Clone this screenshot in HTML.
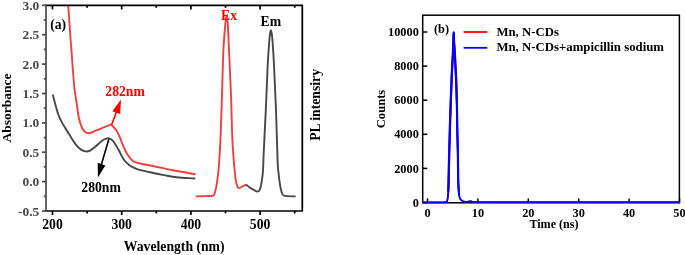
<!DOCTYPE html>
<html lang="en">
<head>
<meta charset="utf-8">
<title>Figure</title>
<style>
html,body{margin:0;padding:0;background:#fff;}
body{width:685px;height:255px;overflow:hidden;}
svg{display:block;}
</style>
</head>
<body>
<svg width="685" height="255" viewBox="0 0 685 255">
<rect width="685" height="255" fill="#fff"/>
<g fill="none" stroke-width="1.9" stroke-linejoin="round" stroke-linecap="butt">
<path d="M52.70,94.40 C54.60,101.17 56.07,108.10 58.40,114.70 C59.70,118.40 61.71,121.86 63.60,125.30 C65.17,128.16 67.05,130.84 68.80,133.60 C71.15,137.31 73.25,141.23 75.90,144.70 C77.32,146.56 79.10,148.29 81.00,149.60 C82.33,150.52 84.03,151.23 85.60,151.40 C87.03,151.56 88.69,151.23 90.00,150.60 C91.93,149.67 93.60,148.08 95.30,146.70 C97.73,144.72 99.90,142.37 102.40,140.50 C103.47,139.70 104.76,139.17 106.00,138.70 C106.79,138.40 107.70,138.10 108.50,138.20 C109.36,138.30 110.25,138.80 111.00,139.30 C111.92,139.90 112.86,140.60 113.50,141.50 C115.46,144.27 117.10,147.33 118.80,150.30 C120.63,153.50 121.99,157.02 124.10,160.00 C125.53,162.02 127.39,163.87 129.40,165.30 C131.52,166.81 134.02,167.94 136.50,168.80 C140.48,170.18 144.67,171.06 148.80,172.00 C153.87,173.16 158.99,174.12 164.10,175.10 C168.22,175.89 172.33,176.85 176.50,177.30 C182.73,177.98 189.03,178.10 195.30,178.50" stroke="#484848"/>
<path d="M68.20,5.00 C68.90,15.00 69.58,25.00 70.30,35.00 C70.95,44.00 71.60,53.00 72.30,62.00 C72.97,70.67 73.48,79.36 74.40,88.00 C74.98,93.39 76.01,98.73 76.80,104.10 C77.41,108.23 77.77,112.42 78.60,116.50 C79.27,119.78 80.15,123.07 81.30,126.20 C81.88,127.77 82.79,129.27 83.80,130.60 C84.46,131.47 85.37,132.26 86.30,132.80 C86.93,133.16 87.77,133.34 88.50,133.30 C89.50,133.24 90.53,132.86 91.50,132.50 C92.80,132.02 94.02,131.33 95.30,130.80 C96.85,130.16 98.45,129.64 100.00,129.00 C101.38,128.44 102.72,127.75 104.10,127.20 C105.38,126.69 106.71,126.30 108.00,125.80 C108.95,125.43 109.95,124.48 110.80,124.60 C111.61,124.71 112.33,125.80 113.00,126.50 C114.16,127.70 115.41,128.89 116.30,130.30 C117.74,132.59 118.90,135.11 120.00,137.60 C120.93,139.71 121.46,141.99 122.40,144.10 C124.00,147.69 125.53,151.39 127.60,154.70 C129.03,156.99 130.82,159.27 132.90,160.90 C134.35,162.04 136.36,162.54 138.20,163.00 C143.43,164.31 148.81,165.09 154.10,166.20 C160.38,167.52 166.60,169.09 172.90,170.30 C180.44,171.75 188.03,172.90 195.60,174.20" stroke="#ee4040"/>
<path d="M195.60,196.40 C199.07,196.30 202.53,196.22 206.00,196.10 C208.10,196.02 210.22,196.02 212.30,195.80 C212.76,195.75 213.26,195.58 213.60,195.30 C213.99,194.98 214.30,194.48 214.50,194.00 C214.87,193.11 215.08,192.15 215.30,191.20 C215.75,189.25 216.15,187.28 216.50,185.30 C216.92,182.94 217.27,180.57 217.60,178.20 C217.97,175.47 218.40,172.75 218.60,170.00 C219.33,160.01 219.95,150.01 220.40,140.00 C221.08,125.01 221.50,110.00 222.00,95.00 C222.50,80.00 222.73,64.99 223.40,50.00 C223.73,42.66 224.42,35.33 225.00,28.00 C225.22,25.16 225.43,22.32 225.80,19.50 C225.96,18.25 226.33,15.80 226.60,15.80 C226.87,15.80 227.26,18.25 227.40,19.50 C227.72,22.32 227.85,25.16 228.00,28.00 C228.38,35.33 228.67,42.67 229.00,50.00 C229.67,65.00 230.43,80.00 231.00,95.00 C231.57,110.00 231.74,125.01 232.40,140.00 C232.77,148.34 233.46,156.67 234.10,165.00 C234.33,167.94 234.65,170.87 235.00,173.80 C235.35,176.74 235.50,179.75 236.20,182.60 C236.66,184.48 237.27,187.34 238.50,188.00 C239.50,188.54 241.46,186.86 242.90,186.20 C244.00,185.70 245.03,185.07 246.10,184.50" stroke="#ee4040"/>
<path d="M246.10,184.50 C247.40,185.60 248.61,186.83 250.00,187.80 C251.24,188.67 252.64,189.32 254.00,190.00 C255.17,190.59 256.49,191.66 257.60,191.60 C258.42,191.56 259.43,190.55 259.80,189.70 C260.73,187.55 261.08,184.99 261.50,182.60 C262.11,179.09 262.63,175.55 262.90,172.00 C263.33,166.35 263.34,160.67 263.60,155.00 C264.30,140.00 265.12,125.00 265.80,110.00 C266.48,95.00 266.95,79.99 267.70,65.00 C268.08,57.33 268.63,49.66 269.20,42.00 C269.40,39.29 269.61,36.58 270.00,33.90 C270.18,32.65 270.60,30.20 270.90,30.20 C271.20,30.20 271.62,32.65 271.80,33.90 C272.19,36.58 272.41,39.29 272.60,42.00 C273.14,49.66 273.62,57.33 274.00,65.00 C274.75,80.00 275.43,95.00 276.00,110.00 C276.57,125.00 276.91,140.00 277.40,155.00 C277.51,158.33 277.57,161.67 277.80,165.00 C278.04,168.54 278.37,172.08 278.80,175.60 C279.30,179.74 279.80,183.91 280.60,188.00 C281.00,190.08 281.42,192.34 282.40,194.10 C282.89,194.97 283.99,195.72 285.00,195.90 C288.39,196.49 292.07,196.23 295.60,196.40" stroke="#484848"/>
</g>
<g stroke-width="1.6">
<line x1="111.6" y1="124.8" x2="116.5" y2="111.8" stroke="#ff0000"/>
<polygon points="121,99.6 112.3,111.2 120.2,114" fill="#ff0000" stroke="none"/>
<line x1="108.8" y1="139.2" x2="101.4" y2="164.5" stroke="#000"/>
<polygon points="97.9,177.4 97.7,162.8 105.3,165.6" fill="#000" stroke="none"/>
</g>
<g stroke="#000" stroke-width="1.7" fill="none">
<line x1="45.3" y1="5.4" x2="303.0" y2="5.4"/>
<line x1="45.3" y1="211.0" x2="303.0" y2="211.0"/>
<line x1="302.3" y1="5.4" x2="302.3" y2="211.0"/>
<line x1="52.5" y1="5.4" x2="52.5" y2="9.4"/>
<line x1="52.5" y1="211.0" x2="52.5" y2="215.0"/>
<line x1="87.1" y1="5.4" x2="87.1" y2="7.800000000000001"/>
<line x1="87.1" y1="211.0" x2="87.1" y2="213.4"/>
<line x1="121.7" y1="5.4" x2="121.7" y2="9.4"/>
<line x1="121.7" y1="211.0" x2="121.7" y2="215.0"/>
<line x1="156.3" y1="5.4" x2="156.3" y2="7.800000000000001"/>
<line x1="156.3" y1="211.0" x2="156.3" y2="213.4"/>
<line x1="190.9" y1="5.4" x2="190.9" y2="9.4"/>
<line x1="190.9" y1="211.0" x2="190.9" y2="215.0"/>
<line x1="225.5" y1="5.4" x2="225.5" y2="7.800000000000001"/>
<line x1="225.5" y1="211.0" x2="225.5" y2="213.4"/>
<line x1="260.1" y1="5.4" x2="260.1" y2="9.4"/>
<line x1="260.1" y1="211.0" x2="260.1" y2="215.0"/>
<line x1="294.7" y1="5.4" x2="294.7" y2="7.800000000000001"/>
<line x1="294.7" y1="211.0" x2="294.7" y2="213.4"/>
</g>
<g stroke="#484848" stroke-width="1.7" fill="none">
<line x1="46.0" y1="4.7" x2="46.0" y2="211.7"/>
<line x1="42.0" y1="5.3" x2="46.0" y2="5.3"/>
<line x1="43.8" y1="20.0" x2="46.0" y2="20.0"/>
<line x1="42.0" y1="34.7" x2="46.0" y2="34.7"/>
<line x1="43.8" y1="49.4" x2="46.0" y2="49.4"/>
<line x1="42.0" y1="64.1" x2="46.0" y2="64.1"/>
<line x1="43.8" y1="78.8" x2="46.0" y2="78.8"/>
<line x1="42.0" y1="93.5" x2="46.0" y2="93.5"/>
<line x1="43.8" y1="108.2" x2="46.0" y2="108.2"/>
<line x1="42.0" y1="122.9" x2="46.0" y2="122.9"/>
<line x1="43.8" y1="137.6" x2="46.0" y2="137.6"/>
<line x1="42.0" y1="152.2" x2="46.0" y2="152.2"/>
<line x1="43.8" y1="166.9" x2="46.0" y2="166.9"/>
<line x1="42.0" y1="181.6" x2="46.0" y2="181.6"/>
<line x1="43.8" y1="196.3" x2="46.0" y2="196.3"/>
<line x1="42.0" y1="211.0" x2="46.0" y2="211.0"/>
</g>
<g font-family="'Liberation Serif', 'Times New Roman', serif" font-weight="bold" font-size="13.7px" fill="#000">
<g fill="#484848" text-anchor="end" font-size="13.4px">
<text x="39.2" y="9.8">3.0</text>
<text x="39.2" y="39.2">2.5</text>
<text x="39.2" y="68.6">2.0</text>
<text x="39.2" y="98.0">1.5</text>
<text x="39.2" y="127.4">1.0</text>
<text x="39.2" y="156.8">0.5</text>
<text x="39.2" y="186.1">0.0</text>
<text x="39.2" y="215.5">-0.5</text>
</g>
<g text-anchor="middle">
<text x="52.5" y="228.6">200</text>
<text x="121.7" y="228.6">300</text>
<text x="190.9" y="228.6">400</text>
<text x="260.1" y="228.6">500</text>
<text x="174.2" y="250.8">Wavelength (nm)</text>
<text transform="translate(10.5,107.9) rotate(-90)" font-size="13.5px">Absorbance</text>
<text transform="translate(320.4,104.9) rotate(-90)">PL intensiry</text>
</g>
<text x="50.2" y="28.6">(a)</text>
<text x="221.1" y="20.1" fill="#ff0000">Ex</text>
<text x="260.6" y="25.7">Em</text>
<text x="105.3" y="95.6" fill="#ff0000">282nm</text>
<text x="81.3" y="191.6">280nm</text>
</g>
<g stroke="#000" stroke-width="1.5" fill="none">
<rect x="422.7" y="15.2" width="256.7" height="187.6"/>
<line x1="422.7" y1="32.0" x2="427.3" y2="32.0"/>
<line x1="422.7" y1="66.1" x2="427.3" y2="66.1"/>
<line x1="422.7" y1="100.2" x2="427.3" y2="100.2"/>
<line x1="422.7" y1="134.3" x2="427.3" y2="134.3"/>
<line x1="422.7" y1="168.4" x2="427.3" y2="168.4"/>
<line x1="422.7" y1="202.5" x2="427.3" y2="202.5"/>
<line x1="427.5" y1="202.8" x2="427.5" y2="198.4"/>
<line x1="477.9" y1="202.8" x2="477.9" y2="198.4"/>
<line x1="528.3" y1="202.8" x2="528.3" y2="198.4"/>
<line x1="578.7" y1="202.8" x2="578.7" y2="198.4"/>
<line x1="629.1" y1="202.8" x2="629.1" y2="198.4"/>
<line x1="679.5" y1="202.8" x2="679.5" y2="198.4"/>
</g>
<g fill="none" stroke-width="1.75" stroke-linejoin="round">
<path d="M422.70,202.30 C428.47,202.30 434.23,202.33 440.00,202.30 C441.83,202.29 443.76,202.51 445.50,202.20 C446.16,202.08 447.01,201.63 447.20,201.00 C448.06,198.07 448.36,194.68 448.65,191.50 C448.94,188.35 448.87,185.17 448.95,182.00 C449.17,173.00 449.33,164.00 449.55,155.00 C449.76,146.67 450.01,138.33 450.25,130.00 C450.44,123.33 450.62,116.67 450.85,110.00 C451.22,99.33 451.62,88.67 452.05,78.00 C452.22,73.67 452.42,69.33 452.65,65.00 C452.86,61.00 453.17,57.00 453.35,53.00 C453.53,49.00 453.61,45.00 453.75,41.00 C453.86,38.10 453.99,32.30 454.10,32.30 C454.21,32.30 454.25,38.10 454.40,41.00 C454.61,45.00 454.97,49.00 455.20,53.00 C455.43,57.00 455.59,61.00 455.80,65.00 C456.03,69.33 456.36,73.66 456.50,78.00 C456.84,88.66 457.09,99.33 457.25,110.00 C457.35,116.67 457.20,123.33 457.30,130.00 C457.42,138.33 457.74,146.67 457.90,155.00 C458.07,164.20 458.02,173.41 458.30,182.60 C458.42,186.74 458.63,190.90 459.10,195.00 C459.26,196.37 459.61,197.80 460.20,199.00 C460.51,199.63 461.20,200.09 461.80,200.50 C462.47,200.96 463.21,201.45 464.00,201.60 C465.28,201.85 466.68,201.78 468.00,201.70 C468.84,201.65 469.67,201.18 470.50,201.20 C471.34,201.22 472.15,201.72 473.00,201.80 C475.32,202.02 477.67,202.07 480.00,202.10 C486.67,202.20 493.33,202.20 500.00,202.20 C559.90,202.23 619.80,202.20 679.70,202.20" stroke="#ff0000" stroke-width="1.5"/>
<path d="M422.70,202.30 C428.47,202.30 434.23,202.33 440.00,202.30 C441.83,202.29 443.76,202.51 445.50,202.20 C446.16,202.08 447.04,201.64 447.20,201.00 C447.94,198.07 447.98,194.67 448.20,191.50 C448.42,188.34 448.42,185.17 448.50,182.00 C448.72,173.00 448.88,164.00 449.10,155.00 C449.31,146.67 449.56,138.33 449.80,130.00 C449.99,123.33 450.17,116.67 450.40,110.00 C450.77,99.33 451.17,88.67 451.60,78.00 C451.77,73.67 451.97,69.33 452.20,65.00 C452.41,61.00 452.72,57.00 452.90,53.00 C453.08,49.00 453.16,45.00 453.30,41.00 C453.40,38.10 453.50,32.30 453.60,32.30 C453.70,32.30 453.75,38.10 453.90,41.00 C454.11,45.00 454.47,49.00 454.70,53.00 C454.93,57.00 455.09,61.00 455.30,65.00 C455.53,69.33 455.84,73.66 456.00,78.00 C456.40,88.66 456.73,99.33 457.00,110.00 C457.17,116.67 457.17,123.33 457.30,130.00 C457.47,138.33 457.74,146.67 457.90,155.00 C458.07,164.20 458.02,173.41 458.30,182.60 C458.42,186.74 458.63,190.90 459.10,195.00 C459.26,196.37 459.61,197.80 460.20,199.00 C460.51,199.63 461.20,200.09 461.80,200.50 C462.47,200.96 463.21,201.45 464.00,201.60 C465.28,201.85 466.68,201.78 468.00,201.70 C468.84,201.65 469.67,201.18 470.50,201.20 C471.34,201.22 472.15,201.72 473.00,201.80 C475.32,202.02 477.67,202.07 480.00,202.10 C486.67,202.20 493.33,202.20 500.00,202.20 C559.90,202.23 619.80,202.20 679.70,202.20" stroke="#0000ff"/>
<path d="M448.20,191.50 C448.30,188.33 448.42,185.17 448.50,182.00 C448.72,173.00 448.88,164.00 449.10,155.00 C449.31,146.67 449.56,138.33 449.80,130.00 C449.99,123.33 450.17,116.67 450.40,110.00 C450.77,99.33 451.17,88.67 451.60,78.00 C451.77,73.67 451.97,69.33 452.20,65.00 C452.41,61.00 452.72,57.00 452.90,53.00 C453.08,49.00 453.16,45.00 453.30,41.00 C453.40,38.10 453.50,32.30 453.60,32.30 C453.70,32.30 453.75,38.10 453.90,41.00 C454.11,45.00 454.47,49.00 454.70,53.00 C454.93,57.00 455.09,61.00 455.30,65.00 C455.53,69.33 455.84,73.66 456.00,78.00 C456.40,88.66 456.73,99.33 457.00,110.00 C457.17,116.67 457.17,123.33 457.30,130.00 C457.47,138.33 457.74,146.67 457.90,155.00 C458.07,164.20 458.02,173.41 458.30,182.60 C458.42,186.74 458.83,190.87 459.10,195.00" stroke="#0000ff" stroke-width="2.2"/>
<line x1="463.6" y1="32" x2="487.3" y2="32" stroke="#ff0000" stroke-width="1.8"/>
<line x1="463.6" y1="47.8" x2="487.3" y2="47.8" stroke="#0000ff" stroke-width="1.8"/>
</g>
<g font-family="'Liberation Serif', 'Times New Roman', serif" font-weight="bold" font-size="12.3px" fill="#000">
<g text-anchor="end">
<text x="418.8" y="36.1">10000</text>
<text x="418.8" y="70.2">8000</text>
<text x="418.8" y="104.3">6000</text>
<text x="418.8" y="138.4">4000</text>
<text x="418.8" y="172.5">2000</text>
<text x="418.8" y="206.6">0</text>
</g>
<g text-anchor="middle">
<text x="427.5" y="216.7">0</text>
<text x="477.9" y="216.7">10</text>
<text x="528.3" y="216.7">20</text>
<text x="578.7" y="216.7">30</text>
<text x="629.1" y="216.7">40</text>
<text x="679.5" y="216.7">50</text>
<text x="554" y="228" font-size="12.1px">Time (ns)</text>
<text transform="translate(385,109) rotate(-90)" font-size="12.6px">Counts</text>
</g>
<text x="434" y="33.2">(b)</text>
<text x="496.4" y="35.6" font-size="12.8px">Mn, N-CDs</text>
<text x="496.4" y="51.4" font-size="12.8px">Mn, N-CDs+ampicillin sodium</text>
</g>
</svg>
</body>
</html>
